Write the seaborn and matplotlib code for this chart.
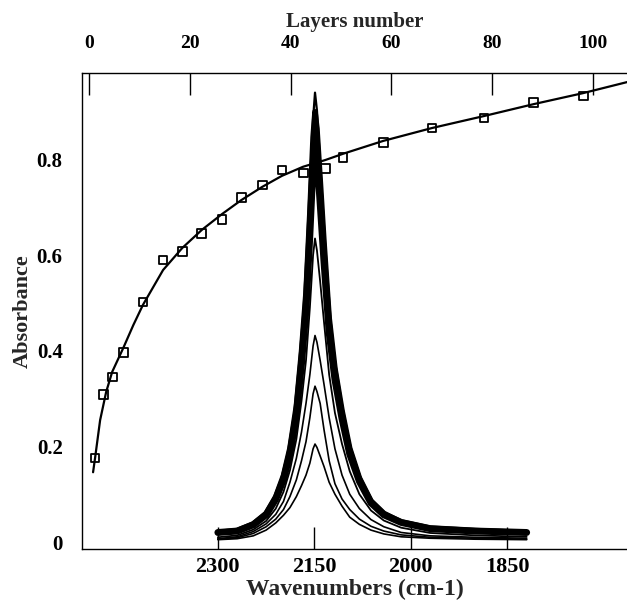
import numpy as np
import pandas as pd
import seaborn as sns
import matplotlib.pyplot as plt

# Layer series (top axis): measured points and fitted curve
layers = [1.2, 2.8, 4.6, 6.8, 10.7, 14.7, 18.5, 22.4, 26.4, 30.2,
          34.4, 38.3, 42.5, 46.9, 50.4, 58.4, 68.1, 78.4, 88.3, 98.1]
layer_abs = [0.176, 0.308, 0.345, 0.397, 0.502, 0.590, 0.607, 0.646, 0.674, 0.720,
             0.747, 0.778, 0.772, 0.782, 0.805, 0.835, 0.866, 0.887, 0.920, 0.933]

fit_layers = [0.8, 1.2, 2.2, 3.4, 4.6, 6.8, 8.8, 10.7, 14.7, 18.5, 22.4, 26.4,
              30.2, 34.4, 38.3, 42.5, 46.9, 50.4, 58.4, 68.1, 78.4, 88.3, 98.1, 106.8]
fit_abs = [0.146, 0.176, 0.255, 0.314, 0.356, 0.406, 0.454, 0.496, 0.569, 0.615, 0.653, 0.686,
           0.715, 0.743, 0.766, 0.785, 0.799, 0.812, 0.839, 0.866, 0.891, 0.916, 0.939, 0.962]

# IR spectra (bottom axis)
wavenumbers = [2300, 2270, 2245, 2225, 2210, 2198, 2188, 2178, 2170, 2163, 2157, 2152, 2149,
               2146, 2141, 2135, 2127, 2118, 2107, 2095, 2080, 2062, 2042, 2015, 1970, 1900, 1820]

spec_1 = [0.005, 0.007, 0.013, 0.025, 0.040, 0.056, 0.072, 0.095, 0.118, 0.140, 0.165, 0.195, 0.205,
          0.198, 0.180, 0.158, 0.125, 0.100, 0.075, 0.052, 0.037, 0.025, 0.017, 0.011, 0.008, 0.006, 0.005]
spec_2 = [0.006, 0.009, 0.018, 0.032, 0.048, 0.068, 0.095, 0.130, 0.170, 0.210, 0.260, 0.310, 0.326,
          0.315, 0.290, 0.235, 0.170, 0.122, 0.090, 0.068, 0.048, 0.033, 0.023, 0.015, 0.010, 0.008, 0.006]
spec_3 = [0.007, 0.011, 0.022, 0.038, 0.058, 0.085, 0.125, 0.175, 0.230, 0.290, 0.350, 0.410, 0.432,
          0.418, 0.380, 0.330, 0.260, 0.195, 0.140, 0.100, 0.070, 0.047, 0.032, 0.020, 0.013, 0.010, 0.008]
spec_4 = [0.010, 0.014, 0.026, 0.044, 0.070, 0.105, 0.150, 0.215, 0.295, 0.380, 0.490, 0.600, 0.635,
          0.610, 0.545, 0.460, 0.350, 0.270, 0.205, 0.148, 0.100, 0.066, 0.045, 0.030, 0.019, 0.014, 0.011]
spec_5 = [0.020, 0.023, 0.036, 0.057, 0.090, 0.131, 0.184, 0.266, 0.373, 0.487, 0.643, 0.791, 0.840,
          0.807, 0.709, 0.586, 0.438, 0.340, 0.258, 0.184, 0.127, 0.082, 0.057, 0.041, 0.028, 0.023, 0.020]
spec_6 = [0.020, 0.024, 0.038, 0.060, 0.095, 0.139, 0.196, 0.284, 0.398, 0.522, 0.689, 0.847, 0.900,
          0.865, 0.759, 0.627, 0.469, 0.363, 0.275, 0.196, 0.134, 0.086, 0.060, 0.042, 0.029, 0.024, 0.020]
spec_7 = [0.020, 0.024, 0.038, 0.061, 0.098, 0.144, 0.204, 0.296, 0.416, 0.544, 0.719, 0.885, 0.940,
          0.903, 0.793, 0.655, 0.489, 0.379, 0.287, 0.204, 0.140, 0.089, 0.061, 0.043, 0.029, 0.024, 0.020]

wn_ticks = [2300, 2150, 2000, 1850]
layer_ticks = [0, 20, 40, 60, 80, 100]
abs_ticks = [0, 0.2, 0.4, 0.6, 0.8]
abs_tick_labels = ['0', '0.2', '0.4', '0.6', '0.8']

sns.set_style("white")
plt.rcParams['font.family'] = ['Liberation Serif', 'DejaVu Serif']
plt.rcParams['font.weight'] = 'bold'

fig = plt.figure(figsize=(6.27, 6.06), dpi=100)
ax = fig.add_axes([0.131, 0.094, 0.869, 0.7855])

spectra = [spec_1, spec_2, spec_3, spec_4, spec_5, spec_6, spec_7]
widths = [1.2, 1.2, 1.2, 1.3, 5.0, 4.0, 1.6]
for spec, lw in zip(spectra, widths):
    sns.lineplot(x=wavenumbers, y=spec, ax=ax, color='black', lw=lw, estimator=None)

ax.set_xlim(2511, 1664)
ax.set_ylim(-0.0146, 0.981)
ax.set_xticks(wn_ticks)
ax.set_xticklabels([str(t) for t in wn_ticks])
ax.set_yticks(abs_ticks)
ax.set_yticklabels(abs_tick_labels)
ax.tick_params(axis='x', direction='in', length=16, width=1, labelsize=16, pad=6, colors='black')
ax.tick_params(axis='y', direction='in', length=8, width=1, labelsize=15, pad=14, colors='black')
ax.set_xlabel('Wavenumbers (cm-1)', fontsize=17, fontweight='bold', labelpad=1)
ax.set_ylabel('Absorbance', fontsize=16, fontweight='bold', labelpad=3)

ax2 = ax.twiny()
sns.lineplot(x=fit_layers, y=fit_abs, ax=ax2, color='black', lw=1.6, estimator=None)
sns.scatterplot(x=layers, y=layer_abs, ax=ax2, marker='s', s=40,
                facecolor='none', edgecolor='black', linewidth=1.3, zorder=3)
ax2.set_xlim(-1.37, 106.8)
ax2.set_xticks(layer_ticks)
ax2.set_xticklabels([str(t) for t in layer_ticks])
ax2.tick_params(axis='x', direction='in', length=16, width=1, labelsize=14, pad=15, colors='black')
ax2.set_xlabel('Layers number', fontsize=15, fontweight='bold', labelpad=6)

for a in (ax, ax2):
    a.spines['right'].set_visible(False)
    for s in a.spines.values():
        s.set_color('black')
        s.set_linewidth(1.0)
ax.spines['top'].set_visible(False)
ax2.spines['left'].set_visible(False)
ax2.spines['bottom'].set_visible(False)

plt.savefig("out.png", dpi=100)
